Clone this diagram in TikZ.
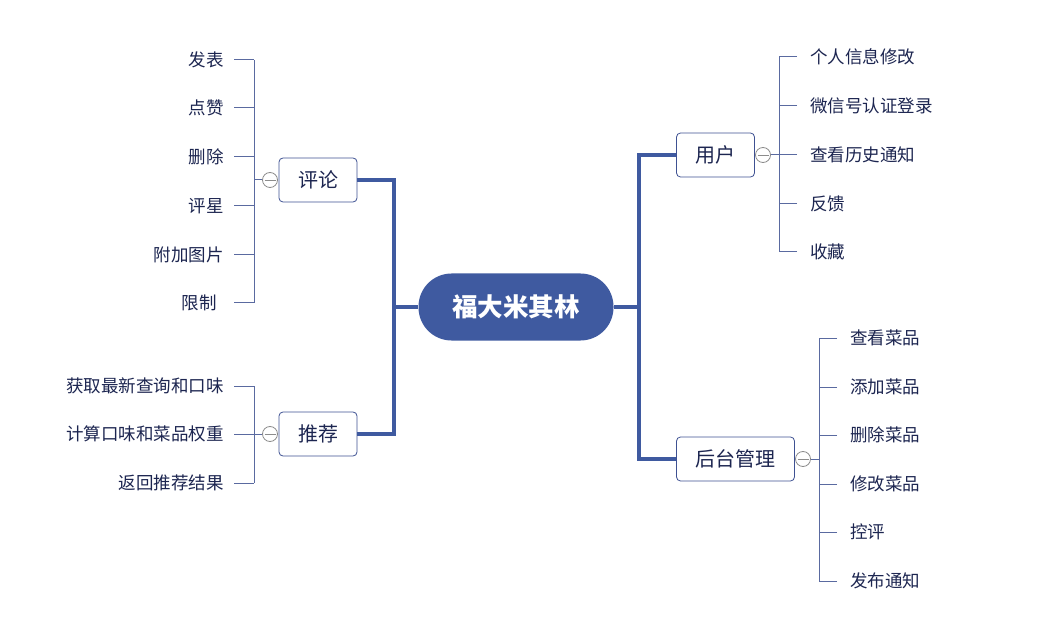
\documentclass[tikz,border=0pt]{standalone}
\usepackage{fontspec}
\newfontfamily\cjk{Noto Sans CJK SC}
\definecolor{mainblue}{HTML}{3F5AA0}
\definecolor{boxborder}{HTML}{3E5192}
\definecolor{leafline}{HTML}{5A6AA0}
\definecolor{txt}{HTML}{1C2550}
\definecolor{collgray}{HTML}{8C8C8C}
\tikzset{
  rootnode/.style={rectangle, rounded corners=33pt, fill=mainblue, minimum width=195pt, minimum height=67pt, text=white, font=\cjk\bfseries\fontsize{25.5}{29}\selectfont},
  branchnode/.style={draw=boxborder, fill=white, rounded corners=4pt, line width=0.8pt, minimum height=44pt, inner xsep=19pt, text=txt, font=\cjk\fontsize{20}{24}\selectfont},
  leafL/.style={anchor=east, inner xsep=10pt, inner ysep=0pt, text=txt, font=\cjk\fontsize{17.5}{20}\selectfont},
  leafR/.style={anchor=west, inner xsep=13pt, inner ysep=0pt, text=txt, font=\cjk\fontsize{17.5}{20}\selectfont},
  thickline/.style={draw=mainblue, line width=3.2pt},
  thinline/.style={draw=leafline, line width=1pt},
  collnode/.style={circle, draw=collgray, fill=white, minimum size=15pt, inner sep=0pt, line width=0.8pt,
    path picture={\draw[collgray, line width=0.8pt] ([xshift=-5.5pt]path picture bounding box.center) -- ([xshift=5.5pt]path picture bounding box.center);}}
}
\begin{document}
\begin{tikzpicture}[x=1pt,y=-1pt]
\useasboundingbox (0,0) rectangle (1052,628);
% root and branches
\node[rootnode] (root) at (516,307) {福大米其林};
\node[branchnode] (pl) at (318,180) {评论};
\node[branchnode] (tj) at (318,434) {推荐};
\node[branchnode] (yh) at (715.5,155) {用户};
\node[branchnode] (ht) at (735.5,459) {后台管理};
\coordinate (lj) at (394,307);
\coordinate (rj) at (639,307);
\draw[thickline] (root.west) -- (lj);
\draw[thickline] (pl.east) -| (lj) |- (tj.east);
\draw[thickline] (root.east) -- (rj);
\draw[thickline] (yh.west) -| (rj) |- (ht.west);
% collapse markers
\node[collnode] (cpl) at (270,180) {};
\node[collnode] (ctj) at (270,434) {};
\node[collnode] (cyh) at (763,155) {};
\node[collnode] (cht) at (803,459) {};
\coordinate (spl) at (254,180);
\coordinate (stj) at (254,434);
\coordinate (syh) at (779,155);
\coordinate (sht) at (819,459);
\draw[thinline] (cpl.west) -- (spl);
\draw[thinline] (ctj.west) -- (stj);
\draw[thinline] (cyh.east) -- (syh);
\draw[thinline] (cht.east) -- (sht);
% 评论 leaves
\node[leafL] (p1) at (234,60) {发表};
\node[leafL] (p2) at (234,108) {点赞};
\node[leafL] (p3) at (234,157) {删除};
\node[leafL] (p4) at (234,206) {评星};
\node[leafL] (p5) at (234,255) {附加图片};
\node[leafL, inner xsep=17pt] (p6) at (234,303) {限制};
\foreach \n in {p1,p2,p3,p4,p5,p6} \draw[thinline] (\n.east) -- (\n.east -| spl);
\draw[thinline] (p1.east -| spl) -- (p6.east -| spl);
% 推荐 leaves
\node[leafL] (t1) at (234,386) {获取最新查询和口味};
\node[leafL] (t2) at (234,434) {计算口味和菜品权重};
\node[leafL] (t3) at (234,483) {返回推荐结果};
\foreach \n in {t1,t2,t3} \draw[thinline] (\n.east) -- (\n.east -| stj);
\draw[thinline] (t1.east -| stj) -- (t3.east -| stj);
% 用户 leaves
\node[leafR] (u1) at (797,57) {个人信息修改};
\node[leafR] (u2) at (797,106) {微信号认证登录};
\node[leafR] (u3) at (797,155) {查看历史通知};
\node[leafR] (u4) at (797,204) {反馈};
\node[leafR] (u5) at (797,252) {收藏};
\foreach \n in {u1,u2,u3,u4,u5} \draw[thinline] (\n.west) -- (\n.west -| syh);
\draw[thinline] (u1.west -| syh) -- (u5.west -| syh);
% 后台管理 leaves
\node[leafR] (h1) at (837,338) {查看菜品};
\node[leafR] (h2) at (837,387) {添加菜品};
\node[leafR] (h3) at (837,435) {删除菜品};
\node[leafR] (h4) at (837,484) {修改菜品};
\node[leafR] (h5) at (837,532) {控评};
\node[leafR] (h6) at (837,581) {发布通知};
\foreach \n in {h1,h2,h3,h4,h5,h6} \draw[thinline] (\n.west) -- (\n.west -| sht);
\draw[thinline] (h1.west -| sht) -- (h6.west -| sht);
\end{tikzpicture}
\end{document}
